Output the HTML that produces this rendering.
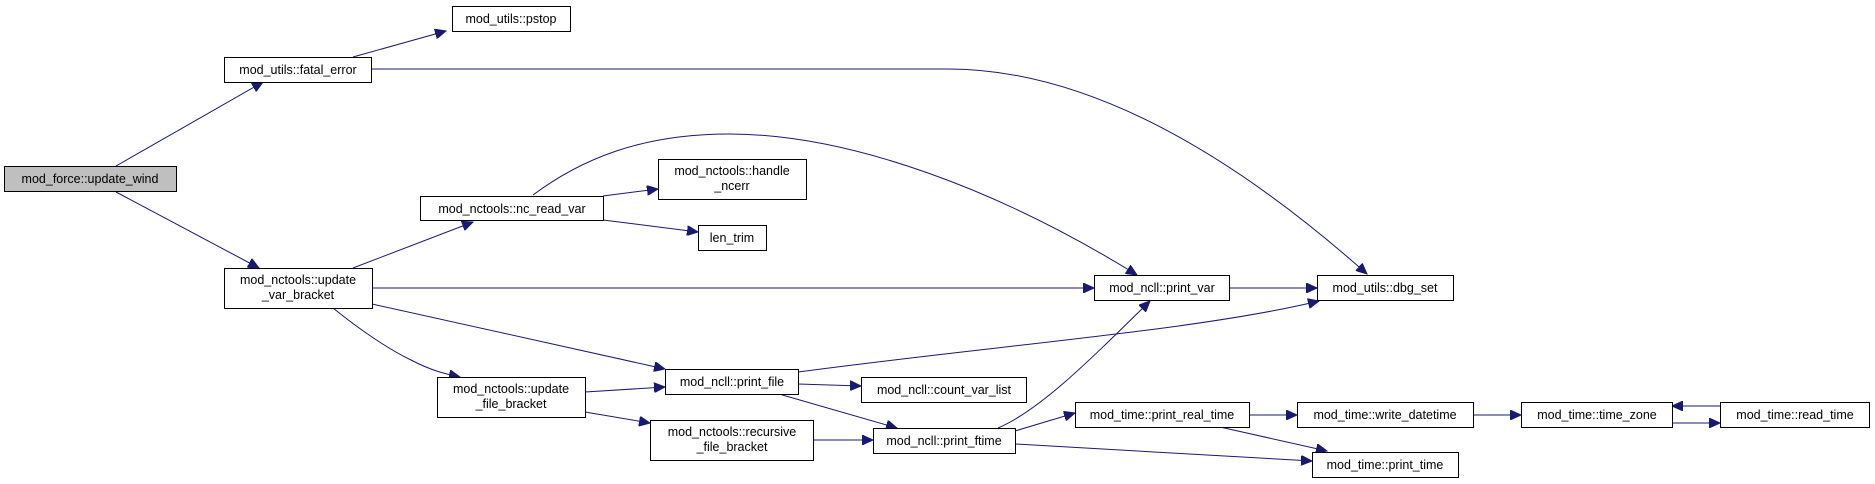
<!DOCTYPE html>
<html><head><meta charset="utf-8"><style>
html,body{margin:0;padding:0;background:#fff;}
svg{display:block;}
text{font-family:"Liberation Sans",Arial,sans-serif;font-size:12.5px;fill:#000;text-anchor:middle;}
rect{fill:#fff;stroke:#000;stroke-width:1;}
path.e{fill:none;stroke:#191970;stroke-width:1;}
</style></head><body>
<svg width="1875" height="484" viewBox="0 0 1875 484" xmlns="http://www.w3.org/2000/svg">
<defs>
<marker id="a" markerUnits="userSpaceOnUse" markerWidth="12" markerHeight="10" refX="11" refY="5" orient="auto">
<path d="M0,0 L11,5 L0,10 Z" fill="#191970" stroke="#191970"/>
</marker>
</defs>
<g marker-end="url(#a)">
<path class="e" d="M116,166 L263,82"/>
<path class="e" d="M116,192 L259,268"/>
<path class="e" d="M353,57 L446,31"/>
<path class="e" d="M371,69 L948,69 C1100,69 1250,170 1367,274"/>
<path class="e" d="M353,268 L473,222"/>
<path class="e" d="M372,288 L1094,288"/>
<path class="e" d="M372,304 L665,369"/>
<path class="e" d="M333,308 C360,330 390,350 411,360 C430,370 445,374 460,377"/>
<path class="e" d="M603,196 L658,189"/>
<path class="e" d="M603,220 L698,232"/>
<path class="e" d="M533,195 C580,160 640,134 729,134 C850,134 1000,190 1137,275"/>
<path class="e" d="M1229,288 L1317,288"/>
<path class="e" d="M798,372 C1000,345 1200,330 1319,301"/>
<path class="e" d="M798,384 L861,386"/>
<path class="e" d="M779,394 L897,428"/>
<path class="e" d="M585,392 L665,387"/>
<path class="e" d="M585,412 L650,423"/>
<path class="e" d="M813,440 L873,440"/>
<path class="e" d="M998,428 C1040,410 1090,360 1150,301"/>
<path class="e" d="M1015,431 L1075,413"/>
<path class="e" d="M1015,444 L1312,461"/>
<path class="e" d="M1249,415 L1297,415"/>
<path class="e" d="M1220,427 L1327,451"/>
<path class="e" d="M1473,415 L1521,415"/>
<path class="e" d="M1720,406 L1672,406"/>
<path class="e" d="M1672,423 L1720,423"/>
</g>
<rect x="4.5" y="166.5" width="172" height="25" style="fill:#bfbfbf"/>
<text x="90" y="183">mod_force::update_wind</text>
<rect x="224.5" y="57.5" width="147" height="25"/><text x="298" y="74">mod_utils::fatal_error</text>
<rect x="452.5" y="6.5" width="118" height="25"/><text x="511" y="23">mod_utils::pstop</text>
<rect x="224.5" y="268.5" width="148" height="40"/><text x="298" y="284">mod_nctools::update</text><text x="298" y="299">_var_bracket</text>
<rect x="420.5" y="196.5" width="183" height="24"/><text x="512" y="213">mod_nctools::nc_read_var</text>
<rect x="437.5" y="377.5" width="148" height="40"/><text x="511" y="393">mod_nctools::update</text><text x="511" y="408">_file_bracket</text>
<rect x="658.5" y="159.5" width="148" height="40"/><text x="732" y="175">mod_nctools::handle</text><text x="732" y="190">_ncerr</text>
<rect x="698.5" y="225.5" width="68" height="25"/><text x="732" y="242">len_trim</text>
<rect x="1094.5" y="275.5" width="135" height="25"/><text x="1162" y="292">mod_ncll::print_var</text>
<rect x="665.5" y="369.5" width="133" height="25"/><text x="732" y="386">mod_ncll::print_file</text>
<rect x="861.5" y="377.5" width="165" height="25"/><text x="944" y="394">mod_ncll::count_var_list</text>
<rect x="650.5" y="420.5" width="163" height="40"/><text x="732" y="436">mod_nctools::recursive</text><text x="732" y="451">_file_bracket</text>
<rect x="873.5" y="428.5" width="142" height="25"/><text x="944" y="445">mod_ncll::print_ftime</text>
<rect x="1075.5" y="402.5" width="174" height="25"/><text x="1162" y="419">mod_time::print_real_time</text>
<rect x="1317.5" y="275.5" width="136" height="25"/><text x="1385" y="292">mod_utils::dbg_set</text>
<rect x="1297.5" y="402.5" width="176" height="25"/><text x="1385" y="419">mod_time::write_datetime</text>
<rect x="1521.5" y="402.5" width="151" height="25"/><text x="1597" y="419">mod_time::time_zone</text>
<rect x="1720.5" y="402.5" width="149" height="25"/><text x="1795" y="419">mod_time::read_time</text>
<rect x="1312.5" y="452.5" width="146" height="25"/><text x="1385" y="469">mod_time::print_time</text>
</svg>
</body></html>
